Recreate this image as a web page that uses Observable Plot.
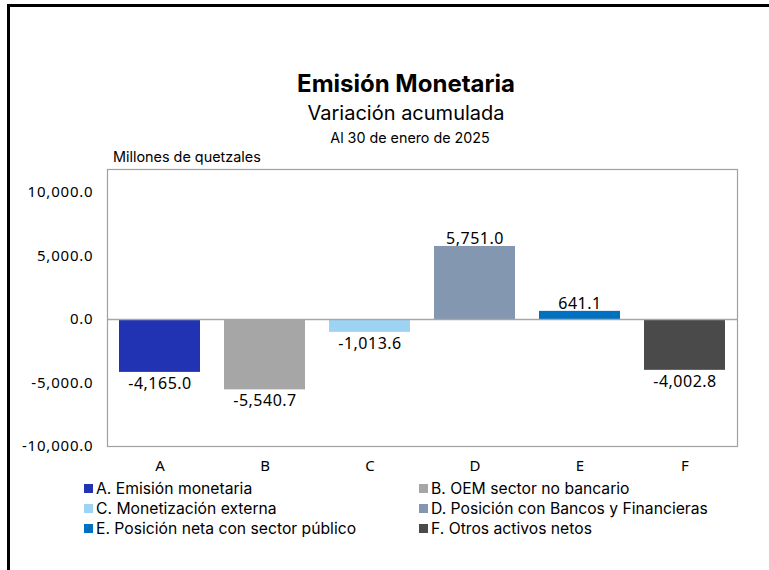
<!DOCTYPE html>
<html>
<head>
<meta charset="utf-8">
<script src="https://cdn.jsdelivr.net/npm/d3@7"></script>
<script src="https://cdn.jsdelivr.net/npm/@observablehq/plot@0.6"></script>
<style>
  body { margin: 0; background: #fff; }
  #wrap { position: relative; width: 769px; height: 570px; overflow: hidden; font-family: "Noto Sans", sans-serif; color: #000; }
  #frame { position: absolute; left: 7px; top: 4px; width: 800px; height: 600px; border-top: 3px solid #000; border-left: 3px solid #000; }
  .ctr { position: absolute; left: 406px; transform: translateX(-50%); white-space: nowrap; font-family: Inter, "Noto Sans", sans-serif; line-height: 1.2; }
  #title { top: 70px; font-size: 24px; font-weight: 700; }
  #sub { top: 101px; font-size: 20px; }
  #date { top: 129px; left: 410px; font-size: 14.3px; }
  #units { position: absolute; left: 113px; top: 148px; font-size: 14.4px; font-family: Inter, "Noto Sans", sans-serif; line-height: 1.2; }
  #chart { position: absolute; left: 0; top: 160px; }
  #chart g[aria-label="y-axis tick label"] text { letter-spacing: 0.8px; }
  #chart g[aria-label="text"] text { letter-spacing: 0.5px; }
  .leg { position: absolute; font-size: 15.7px; font-family: Inter, "Noto Sans", sans-serif; line-height: 19px; white-space: nowrap; display: flex; align-items: center; }
  .leg span.sw { display: inline-block; width: 9px; height: 9px; margin-right: 3px; }
</style>
</head>
<body>
<div id="wrap">
  <div id="frame"></div>
  <div class="ctr" id="title">Emisión Monetaria</div>
  <div class="ctr" id="sub">Variación acumulada</div>
  <div class="ctr" id="date">Al 30 de enero de 2025</div>
  <div id="units">Millones de quetzales</div>
  <div id="chart"></div>
  <div id="legend"></div>
</div>
<script>
const categories = ["A", "B", "C", "D", "E", "F"];
const values = [-4165.0, -5540.7, -1013.6, 5751.0, 641.1, -4002.8];
const seriesNames = [
  "A. Emisión monetaria",
  "B. OEM sector no bancario",
  "C. Monetización externa",
  "D. Posición con Bancos y Financieras",
  "E. Posición neta con sector público",
  "F. Otros activos netos"
];
const yTicks = [-10000, -5000, 0, 5000, 10000];
const palette = ["#2133b3", "#a6a6a6", "#9dd4f4", "#8497b0", "#0070c0", "#4a4a4a"];

const data = categories.map((c, i) => ({category: c, value: values[i]}));
const loc = d3.formatLocale({decimal: ".", thousands: ",", grouping: [3], currency: ["", ""], minus: "-"});
const fmt = loc.format(",.1f");

const chart = Plot.plot({
  width: 769,
  height: 320,
  marginLeft: 107,
  marginRight: 32,
  marginTop: 9,
  marginBottom: 34,
  style: {fontFamily: "'Noto Sans', sans-serif", fontSize: "14px", color: "#000", background: "transparent"},
  x: {domain: categories, paddingInner: 0.23, paddingOuter: 0.115, label: null, axis: null},
  y: {domain: [-10000, 11811], label: null, axis: null},
  color: {domain: categories, range: palette},
  marks: [
    Plot.axisX({tickSize: 0, tickPadding: 14, fontSize: 15, label: null}),
    Plot.axisY({ticks: yTicks, tickFormat: fmt, tickSize: 0, tickPadding: 14, fontSize: 15, label: null}),
    Plot.barY(data, {x: "category", y: "value", fill: "category"}),
    Plot.ruleY([0], {stroke: "#a6a6a6", strokeWidth: 1.5}),
    Plot.frame({stroke: "#a0a0a0", strokeWidth: 1.2}),
    Plot.text(data.filter(d => d.value >= 0), {x: "category", y: "value", text: d => fmt(d.value), lineAnchor: "bottom", dy: -2, fontSize: 16, fill: "#000"}),
    Plot.text(data.filter(d => d.value < 0), {x: "category", y: "value", text: d => fmt(d.value), lineAnchor: "top", dy: 5, fontSize: 16, fill: "#000"})
  ]
});
document.getElementById("chart").appendChild(chart);

const legend = document.getElementById("legend");
const legPos = [[84, 478.5], [419, 478.5], [84, 498.5], [419, 498.5], [84, 518.5], [419, 518.5]];
seriesNames.forEach((name, i) => {
  const el = document.createElement("div");
  el.className = "leg";
  el.style.left = legPos[i][0] + "px";
  el.style.top = legPos[i][1] + "px";
  const sw = document.createElement("span");
  sw.className = "sw";
  sw.style.background = palette[i];
  el.appendChild(sw);
  el.appendChild(document.createTextNode(name));
  legend.appendChild(el);
});
</script>
</body>
</html>
